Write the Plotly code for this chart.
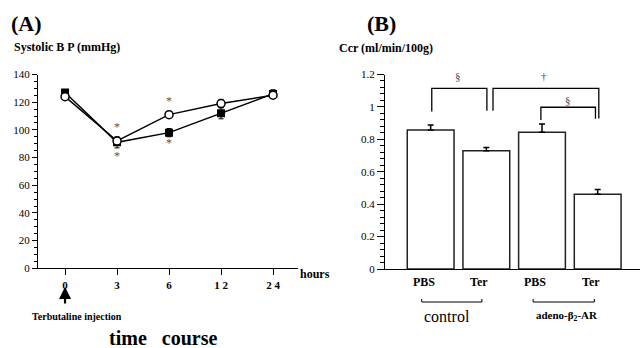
import plotly.graph_objects as go

W, H = 643, 348

# ---------------- data ----------------
hours = ["0", "3", "6", "1 2", "2 4"]
sbp_open = [124, 92, 111, 119, 125]
sbp_open_err = [2, 2, 2, 3, 2]
sbp_filled = [127, 91, 98, 112, 126]
sbp_filled_err = [2, 4, 3, 4, 3]

ccr_labels = ["PBS", "Ter", "PBS", "Ter"]
ccr_values = [0.858, 0.73, 0.844, 0.461]
ccr_err = [0.03, 0.02, 0.05, 0.03]


def px(x):
    return x / W


def py(y):
    return 1 - y / H


SERIF = "'Liberation Serif', 'Times New Roman', serif"
idx = list(range(len(hours)))
bidx = list(range(len(ccr_labels)))

fig = go.Figure()

fig.add_trace(go.Scatter(
    x=idx, y=sbp_filled, mode="lines+markers",
    line=dict(color="black", width=1.5),
    marker=dict(symbol="square", size=8, color="black"),
    error_y=dict(type="data", array=sbp_filled_err, color="black", thickness=1, width=2.5),
    xaxis="x", yaxis="y", name="filled"))
fig.add_trace(go.Scatter(
    x=idx, y=sbp_open, mode="lines+markers",
    line=dict(color="black", width=1.5),
    marker=dict(symbol="circle", size=8, color="white", line=dict(color="black", width=1.5)),
    error_y=dict(type="data", array=sbp_open_err, color="black", thickness=1, width=2.5),
    xaxis="x", yaxis="y", name="open"))

fig.add_trace(go.Bar(
    x=bidx, y=ccr_values, width=0.84,
    marker=dict(color="white", line=dict(color="#222", width=1.5)),
    error_y=dict(type="data", symmetric=False, array=ccr_err, arrayminus=[0] * len(ccr_err),
                 color="black", thickness=1.5, width=3),
    xaxis="x2", yaxis="y2", name="Ccr"))

axis_common = dict(showline=True, linecolor="black", linewidth=1.2, showgrid=False,
                   zeroline=False, tickcolor="black", automargin=False)

fig.update_layout(
    width=W, height=H, margin=dict(l=0, r=0, t=0, b=0, autoexpand=False),
    paper_bgcolor="white", plot_bgcolor="white", showlegend=False,
    font=dict(family=SERIF, color="black"),
    xaxis=dict(domain=[px(38), px(298)], range=[-0.52, 4.48], anchor="y",
               ticks="outside", ticklen=6, tickvals=idx, ticktext=hours,
               tickfont=dict(size=11, weight="bold", family=SERIF), **axis_common),
    yaxis=dict(domain=[py(268.3), py(74.5)], range=[0, 140], anchor="x",
               dtick=20, ticks="outside", ticklen=5,
               minor=dict(dtick=5, ticks="outside", ticklen=3, tickcolor="black"),
               tickfont=dict(size=11, family=SERIF), **axis_common),
    xaxis2=dict(domain=[px(385), px(640)], range=[-0.82, 3.76], anchor="y2",
                showticklabels=False, ticks="", **axis_common),
    yaxis2=dict(domain=[py(269), py(74.5)], range=[0, 1.2], anchor="x2",
                dtick=0.2, ticks="outside", ticklen=7,
                minor=dict(dtick=0.04, ticks="outside", ticklen=4, tickcolor="black"),
                tickfont=dict(size=11, family=SERIF), **axis_common),
)

# significance brackets (panel B)
def bracket(x0, x1, yl, yr, ytop):
    return dict(type="path", xref="x2", yref="y2",
                path=f"M {x0},{yl} L {x0},{ytop} L {x1},{ytop} L {x1},{yr}",
                line=dict(color="black", width=1.3))

shapes = [
    bracket(0.02, 1.01, 0.971, 0.977, 1.115),
    bracket(1.12, 3.02, 0.977, 0.928, 1.115),
    bracket(1.98, 2.96, 0.92, 0.927, 0.998),
]
# group brackets under x labels
for g0, g1 in [(-0.16, 0.92), (1.84, 2.94)]:
    shapes.append(dict(type="path", xref="x2", yref="paper",
                       path=f"M {g0},{py(299)} L {g0},{py(302)} L {g1},{py(302)} L {g1},{py(299)}",
                       line=dict(color="black", width=1)))
fig.update_layout(shapes=shapes)

ann = []
def text(x, y, s, size, bold=False, xanchor="center", xref="paper", yref="paper", color="black", **kw):
    ann.append(dict(x=x, y=y, xref=xref, yref=yref, text=s, showarrow=False,
                    xanchor=xanchor, yanchor="middle",
                    font=dict(family=SERIF, size=size, color=color, weight="bold" if bold else "normal"), **kw))

text(px(26), py(23), "(A)", 22, True)
text(px(12), py(47), "Systolic B P (mmHg)", 12, True, xanchor="left")
text(px(381), py(23), "(B)", 22, True)
text(px(337), py(48), "Ccr (ml/min/100g)", 12, True, xanchor="left")
text(px(298), py(274), "hours", 12, True, xanchor="left")
text(px(77), py(316), "Terbutaline injection", 10, True)
text(px(163), py(338), "time\u00a0\u00a0\u00a0course", 20, True)

for i, lab in enumerate(ccr_labels):
    text(i, py(282), lab, 12, True, xref="x2", xshift=-7)
text(0.30, py(316), "control", 16, False, xref="x2")
text(2.45, py(316), "adeno-β<sub>2</sub>-AR", 11, True, xref="x2")

# asterisks (panel A)
for xa, ya in [(1, 104), (1, 83.5), (2, 123), (2, 93)]:
    text(xa, ya, "*", 12, False, xref="x", yref="y", color="#555", yshift=-3)

# symbols over brackets (panel B)
text(0.49, 1.19, "§", 11, False, xref="x2", yref="y2", color="#444")
text(2.04, 1.19, "†", 11, False, xref="x2", yref="y2", color="#444")
text(2.47, 1.04, "§", 11, False, xref="x2", yref="y2", color="#444")

# injection arrow
ann.append(dict(x=0, y=py(287), xref="x", yref="paper", text="", showarrow=True,
                ax=0, ay=18, arrowhead=2, arrowsize=1.1, arrowwidth=2.2,
                arrowcolor="black", standoff=0))

fig.update_layout(annotations=ann)
fig.write_html("out.html", config={"displayModeBar": False},
               post_script="document.body.style.margin='0';document.body.style.padding='0';")
